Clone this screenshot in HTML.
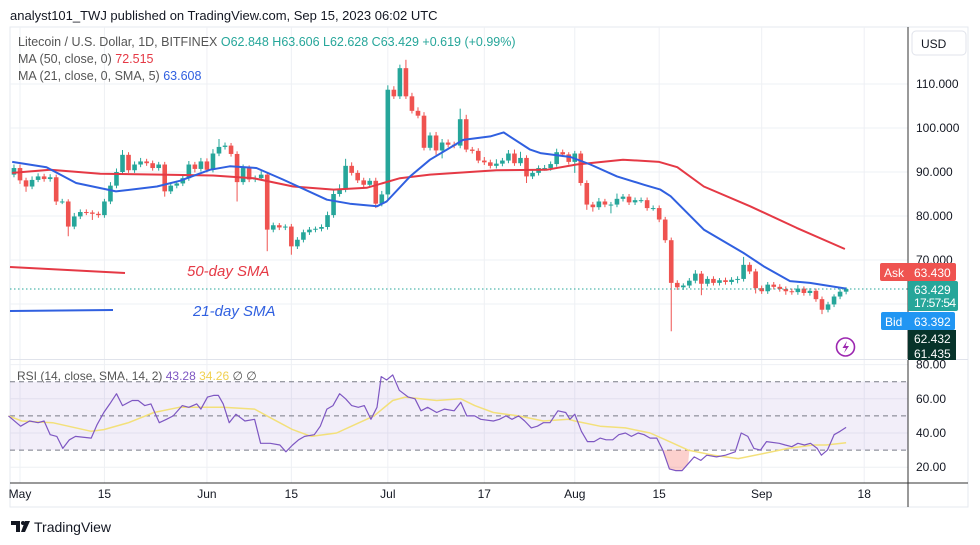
<!DOCTYPE html>
<html><head><meta charset="utf-8"><style>
html,body{margin:0;padding:0;background:#fff;width:980px;height:545px;overflow:hidden}
svg{display:block;font-family:"Liberation Sans",sans-serif}
</style></head><body>
<svg id="c" width="980" height="545" viewBox="0 0 980 545">
<text x="10" y="20" font-size="13" fill="#131722">analyst101_TWJ published on TradingView.com, Sep 15, 2023 06:02 UTC</text>
<rect x="10" y="27" width="958" height="480" fill="none" stroke="#e6e9ef"/>
<g id="grid"></g>
<rect x="10" y="381.7" width="898" height="68.4" fill="#7e57c2" fill-opacity="0.1"/>
<g id="rsiGuides"></g>
<g id="marks"></g>
<g id="rsiMarks"></g>
<line x1="908" y1="27" x2="908" y2="507" stroke="#333" stroke-width="1"/>
<line x1="10" y1="359.5" x2="968" y2="359.5" stroke="#e0e3eb"/>
<line x1="10" y1="483" x2="968" y2="483" stroke="#333"/>
<g id="axes" font-size="12" fill="#131722"></g>
<rect x="912" y="31" width="54" height="24" rx="4" fill="#fff" stroke="#e0e3eb"/>
<text x="921" y="48" font-size="12" fill="#131722">USD</text>
<text x="18" y="46" font-size="12.5" fill="#555">Litecoin / U.S. Dollar, 1D, BITFINEX <tspan fill="#26a69a">O62.848 H63.606 L62.628 C63.429 +0.619 (+0.99%)</tspan></text>
<text x="18" y="63" font-size="12.5" fill="#555">MA (50, close, 0) <tspan fill="#e53945">72.515</tspan></text>
<text x="18" y="80" font-size="12.5" fill="#555">MA (21, close, 0, SMA, 5) <tspan fill="#3060e0">63.608</tspan></text>
<text x="17" y="380" font-size="12" fill="#555">RSI (14, close, SMA, 14, 2) <tspan fill="#7e57c2">43.28</tspan> <tspan fill="#f0d050">34.26</tspan> ∅ ∅</text>
<line x1="10" y1="267" x2="125" y2="273" stroke="#e53945" stroke-width="2"/>
<text x="187" y="276" font-size="15" fill="#e53945" font-style="italic">50-day SMA</text>
<line x1="10" y1="311" x2="113" y2="310" stroke="#3060e0" stroke-width="2"/>
<text x="193" y="316" font-size="15" fill="#3060e0" font-style="italic">21-day SMA</text>
<line x1="10" y1="289" x2="908" y2="289" stroke="#26a69a" stroke-dasharray="1.5 2.5"/>
<g><rect x="880" y="263" width="76" height="18" rx="2" fill="#ef5350"/><text x="884" y="277" font-size="12" fill="#fff">Ask</text><text x="914" y="277" font-size="12" fill="#fff">63.430</text></g>
<g><rect x="908" y="281" width="50" height="30" rx="2" fill="#26a69a"/><text x="914" y="294" font-size="12" fill="#fff">63.429</text><text x="914" y="307" font-size="12" fill="#fff" textLength="42">17:57:54</text></g>
<g><rect x="881" y="312" width="74" height="18" rx="2" fill="#2196f3"/><text x="885" y="326" font-size="12" fill="#fff">Bid</text><text x="914" y="326" font-size="12" fill="#fff">63.392</text></g>
<g><rect x="908" y="330" width="48" height="30" fill="#07332a"/><text x="914" y="343" font-size="12" fill="#fff">62.432</text><text x="914" y="358" font-size="12" fill="#fff">61.435</text></g>
<g><circle cx="845.5" cy="347" r="9" fill="none" stroke="#9c27b0" stroke-width="1.6"/><path d="M847 341 L842.5 348 L846 348 L844 353 L849 346 L845.5 346 Z" fill="#9c27b0"/></g>
<g><path d="M11 521 h9 v11 h-4 v-7 h-5 z" fill="#131722"/><circle cx="23" cy="523" r="2" fill="#131722"/><path d="M25 521 h5 l-5 11 h-4 z" fill="#131722"/></g>
<text x="34" y="532" font-size="14" fill="#131722">TradingView</text>
</svg>
<script>
const closes=[90.9,88.1,86.7,88.2,89.0,88.4,88.8,83.3,83.3,77.6,79.9,80.9,80.8,80.5,80.2,83.3,86.9,90.0,93.9,90.4,91.7,92.4,92.0,90.9,91.7,85.6,86.9,87.4,88.6,91.7,90.7,92.4,90.5,94.2,95.7,96.0,94.1,87.7,90.9,88.3,88.6,89.4,76.9,77.9,77.4,77.6,73.1,74.6,76.3,76.9,77.1,77.5,80.2,85.0,86.0,91.4,89.8,88.1,87.1,88.0,82.8,84.9,108.7,107.2,113.6,107.2,103.9,102.8,95.5,98.3,94.9,96.7,96.2,96.0,102.0,95.1,94.8,92.6,92.2,91.4,91.9,92.6,94.2,92.0,93.2,89.0,89.8,90.9,90.9,91.8,94.5,94.0,92.3,94.2,87.5,82.6,82.0,83.3,82.6,82.6,83.9,84.4,83.1,83.6,83.6,81.8,81.8,79.2,74.5,64.8,63.8,64.2,65.3,66.9,64.6,65.7,64.8,65.4,65.0,65.5,65.7,68.9,67.4,63.6,62.9,64.4,63.9,63.4,62.9,62.7,63.5,62.5,63.0,61.1,58.7,59.9,61.7,62.8,63.4];
const firstOpen=89.4;
const firstDay=-2;
const wickUp=[0.8,0.8,0.6,0.8,0.7,0.6,0.7,0.6,0.6,0.5,0.8,0.6,0.6,0.5,0.5,0.6,0.8,0.8,1.1,0.6,0.7,0.8,0.6,0.6,0.6,0.6,0.7,0.6,0.7,0.8,0.6,0.8,0.7,1.0,1.8,0.7,0.6,0.6,0.8,0.6,0.6,0.8,0.6,0.6,0.5,0.5,0.6,0.6,0.6,0.6,0.5,0.6,0.8,1.0,1.2,1.6,0.8,0.6,0.6,0.6,0.7,0.8,1.0,0.8,0.8,1.9,0.8,0.8,0.8,0.7,0.8,0.8,0.7,0.7,2.4,1.0,0.6,0.6,0.8,0.6,1.0,0.6,0.8,0.9,1.4,0.6,0.6,0.6,0.7,0.6,0.8,0.6,0.5,0.6,0.6,0.6,0.6,0.8,0.6,0.6,1.2,0.6,0.6,0.6,0.6,0.6,0.6,0.6,0.6,0.6,0.6,0.5,0.6,0.8,0.6,0.6,0.6,0.5,0.6,0.6,0.6,1.8,0.6,0.6,0.6,0.6,0.6,0.6,0.6,0.6,0.8,0.5,0.6,0.5,0.6,0.6,0.5,0.6,0.4];
const wickDn=[0.6,0.8,1.2,0.6,0.5,0.6,0.6,0.8,0.6,2.2,0.6,0.6,0.6,1.4,0.6,0.6,0.6,0.6,0.6,0.6,0.6,0.6,0.6,0.6,0.6,1.2,0.6,0.6,0.6,0.6,0.8,0.6,0.6,0.6,0.6,0.6,0.6,4.4,0.6,0.6,0.6,0.6,4.9,0.6,0.6,0.6,1.9,0.6,0.6,0.6,0.6,0.6,0.6,0.6,0.6,0.6,0.6,0.6,0.6,0.6,1.0,0.6,1.2,0.6,0.6,0.6,0.6,0.6,0.6,0.6,1.0,1.8,0.6,0.6,0.6,0.6,0.6,0.6,0.6,0.6,0.6,0.6,0.6,0.6,0.6,1.5,0.6,0.6,0.6,0.6,0.6,0.6,0.6,2.5,0.6,1.2,1.0,0.6,0.6,2.0,0.6,0.6,0.6,0.6,0.6,0.6,0.6,0.6,0.6,11.0,0.6,0.6,0.6,0.6,2.6,0.6,0.6,0.6,0.6,0.6,0.8,0.6,0.6,1.2,0.6,0.6,0.6,0.6,0.8,0.6,0.6,0.6,0.6,0.6,1.0,0.6,0.6,0.6,0.6];
const ma50Days=[-1.3,5,13.3,23.2,32,38.7,45.3,52,57.5,63,68,79,87.3,92.3,100,106,109,113.4,121.1,128.8,136.8];
const ma50Vals=[89.8,90.5,89.6,89.4,89.2,88.6,86.7,86.0,86.4,88.6,89.4,90.4,90.5,91.7,92.8,92.3,91.1,86.7,82.2,77.3,72.5];
const ma21Days=[-1.3,4.4,9.3,15.9,22.7,26.5,31.5,34.8,39.2,43.6,50.9,54.7,59.2,60.8,64.7,68,73.5,78,80.2,84.6,86.3,91.3,94.6,99,103.5,106.2,107.9,113.4,120,123.3,127.7,131,137];
const ma21Vals=[92.3,91.1,87.5,85.6,86.7,88.0,90.5,91.3,90.9,88.3,83.7,82.8,82.2,83.3,89.0,92.8,97.3,98.1,99.0,95.1,94.3,93.4,91.7,89.0,87.1,86.0,84.5,76.9,71.6,68.6,65.2,64.8,63.5];
const rsiDays=[-1.9,0.1,1.6,3,4,5,6.1,7.1,8.2,9.2,11.8,12.8,13.9,14.9,16,17,18.6,19.6,20.7,21.7,23.1,24.3,25.4,26.9,28,29.3,30,31.1,32.1,32.9,33.7,34.7,35.8,37.3,38.9,39.9,41.5,43.1,44.1,45.2,46.2,47.2,48.8,49.8,50.9,51.9,53,54,55,56.1,57.1,58.2,59.2,59.9,60.8,61.8,62.9,64.4,65.5,66.5,67.6,69.1,70.4,72,73.1,74.1,75.4,76.4,78.5,79.5,80.6,81.6,82.7,83.7,84.8,85.8,86.8,87.9,89.2,90.5,91.2,92,93.1,94.1,95.2,96.2,97.2,98.3,99.3,100.4,101.4,102.5,103.5,104.5,105.6,106.6,107.7,108.7,109.8,110.8,111.8,112.9,113.9,115.5,117,118.6,119.6,120.7,121.7,122.8,123.8,125.9,126.9,128,129,130.1,131.1,132.2,132.9,133.9,135,136,137];
const rsiVals=[50,44,47,46,47,39,38,31,36,38,37,45,52,57,63,56,59,59,56,57,46,48,50,56,55,57,54,61,62,62,57,46,51,47,48,34,34,33,29,33,36,38,39,44,54,56,63,60,56,55,56,48,55,73,71,74,65,61,60,53,55,52,54,53,58,50,50,48,47,48,50,48,50,47,43,44,46,46,53,52,48,51,41,35,35,37,36,36,39,40,38,40,39,37,37,30,19,18,18,22,26,24,27,26,27,29,40,38,31,30,35,34,33,32,34,33,34,31,27,30,39,41,43.3];
const rsiMaDays=[-1.9,0.3,5.4,11.8,13.9,18,22.2,26.4,30.5,33.7,38.9,42,45.2,48.3,52.5,55.6,58.7,61.8,63.9,69.1,73.1,75.4,78.5,82.7,86.8,91,92,96.2,100.4,104.5,107.7,110.8,115,119.1,123.3,127.4,131.6,133.7,137];
const rsiMaVals=[50,47,46,41,42,46,52,55,55,55,54,48,42,38,40,45,50,59,61,59,60,56,52,50,47,48,47,44,43,40,35,30,27,25,28,31,33,33,34.3];
const priceTicks=[110,100,90,80,70,60];
const priceTickLabels=["110.000","100.000","90.000","80.000","70.000",""];
const rsiTicks=[80,60,40,20];
const rsiTickLabels=["80.00","60.00","40.00","20.00"];
const rsiGuideLevels=[70,50,30];
const timeTickDays=[0,14,31,45,61,77,92,106,123,140];
const timeTickLabels=["May","15","Jun","15","Jul","17","Aug","15","Sep","18"];

const NS="http://www.w3.org/2000/svg";
const X=d=>20+d*6.03;
const Y=p=>84+(110-p)*4.4;
const RY=v=>381.7+(70-v)*1.71;
function mk(tag,parent,attrs){const e=document.createElementNS(NS,tag);for(const k in attrs)e.setAttribute(k,attrs[k]);parent.appendChild(e);return e;}
const grid=document.getElementById('grid'),marks=document.getElementById('marks'),rsiM=document.getElementById('rsiMarks'),axes=document.getElementById('axes'),rg=document.getElementById('rsiGuides');
timeTickDays.forEach((d,i)=>{
 const l=mk('line',grid,{x1:X(d),x2:X(d),y1:27,y2:483,stroke:'#eef0f4'});
 
 
 const t=mk('text',axes,{x:X(d),y:498,'text-anchor':'middle'});t.textContent=timeTickLabels[i];
 
 
});
priceTicks.forEach((p,i)=>{
 const l=mk('line',grid,{x1:10,x2:908,y1:Y(p),y2:Y(p),stroke:'#eef0f4'});
 
 
 if(priceTickLabels[i]){const t=mk('text',axes,{x:916,y:Y(p)+4});t.textContent=priceTickLabels[i];
 
 }
});
rsiTicks.forEach((v,i)=>{
 const l=mk('line',grid,{x1:10,x2:908,y1:RY(v),y2:RY(v),stroke:'#eef0f4'});
 
 
 const t=mk('text',axes,{x:916,y:RY(v)+4});t.textContent=rsiTickLabels[i];
 
 
});
rsiGuideLevels.forEach(v=>{
 const l=mk('line',rg,{x1:10,x2:908,y1:RY(v),y2:RY(v),stroke:'#787b86','stroke-dasharray':'5 4'});
 
 
});
let prev=firstOpen;
closes.forEach((c,i)=>{
 const d=firstDay+1+i, o=prev; prev=c;
 const up=c>=o, col=up?'#26a69a':'#ef5350';
 const hi=Math.max(o,c)+wickUp[i], lo=Math.min(o,c)-wickDn[i];
 const g=mk('g',marks,{});
 
 
 mk('line',g,{x1:X(d),x2:X(d),y1:Y(hi),y2:Y(lo),stroke:col,'stroke-width':1});
 const top=Y(Math.max(o,c)),h=Math.max(1,Y(Math.min(o,c))-top);
 mk('rect',g,{x:X(d)-2.3,y:top,width:4.6,height:h,fill:col});
});
function line(parent,days,vals,yf,col,w,name){
 const pts=days.map((d,i)=>X(d).toFixed(1)+','+yf(vals[i]).toFixed(1)).join(' ');
 const p=mk('polyline',parent,{points:pts,fill:'none',stroke:col,'stroke-width':w,'stroke-linejoin':'round'});
 
 
 return p;
}
line(marks,ma50Days,ma50Vals,Y,'#e53945',2,'ma50-line');
line(marks,ma21Days,ma21Vals,Y,'#3060e0',2,'ma21-line');
(function(){
 let pts=[];
 rsiDays.forEach((d,i)=>{ if(d>=106.6&&d<=110.8) pts.push(X(d)+','+RY(Math.min(rsiVals[i],30))); });
 const a=X(106.4),b=X(111);
 const p=mk('polygon',rsiM,{points:a+','+RY(30)+' '+pts.join(' ')+' '+b+','+RY(30),fill:'#f44336','fill-opacity':0.25});
 
 
})();
line(rsiM,rsiMaDays,rsiMaVals,RY,'#f3e07a',1.5,'rsi-ma-line');
line(rsiM,rsiDays,rsiVals,RY,'#7e57c2',1.2,'rsi-line');
</script>
</body></html>
